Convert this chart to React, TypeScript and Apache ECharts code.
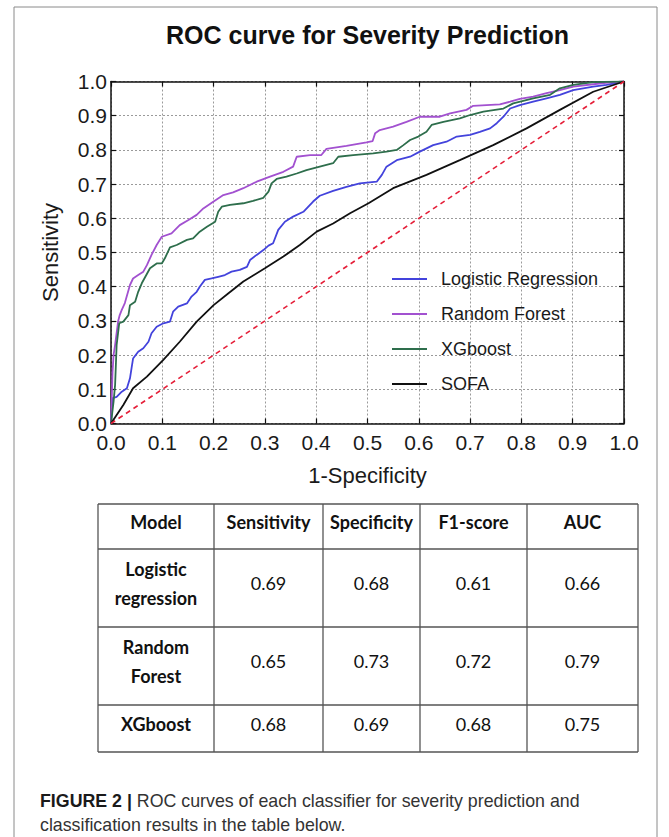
import React, { useEffect, useRef } from 'react';
import * as echarts from 'echarts';

const chartTitle = 'ROC curve for Severity Prediction';
const xAxisName = '1-Specificity';
const yAxisName = 'Sensitivity';
const legendNames = ['Logistic Regression', 'Random Forest', 'XGboost', 'SOFA'];

const lrPoints = [[0,0],[0.003,0.074],[0.011,0.078],[0.021,0.093],[0.031,0.103],[0.037,0.132],[0.04,0.161],[0.043,0.19],[0.053,0.21],[0.063,0.22],[0.073,0.239],[0.079,0.264],[0.089,0.283],[0.102,0.293],[0.115,0.298],[0.121,0.327],[0.131,0.342],[0.148,0.351],[0.157,0.371],[0.167,0.385],[0.173,0.4],[0.183,0.42],[0.196,0.424],[0.209,0.429],[0.222,0.434],[0.235,0.444],[0.251,0.449],[0.265,0.458],[0.271,0.478],[0.284,0.493],[0.297,0.507],[0.307,0.52],[0.316,0.527],[0.326,0.566],[0.339,0.59],[0.355,0.605],[0.375,0.619],[0.394,0.649],[0.407,0.666],[0.433,0.68],[0.459,0.692],[0.485,0.702],[0.518,0.707],[0.528,0.727],[0.537,0.751],[0.557,0.77],[0.583,0.78],[0.602,0.795],[0.628,0.814],[0.654,0.824],[0.674,0.839],[0.7,0.844],[0.719,0.853],[0.739,0.863],[0.752,0.878],[0.765,0.897],[0.778,0.921],[0.797,0.931],[0.823,0.941],[0.849,0.951],[0.875,0.961],[0.901,0.975],[0.94,0.985],[0.966,0.99],[1,1]];

const rfPoints = [[0,0],[0.003,0.15],[0.005,0.2],[0.008,0.23],[0.014,0.3],[0.017,0.317],[0.021,0.332],[0.027,0.352],[0.037,0.405],[0.043,0.424],[0.053,0.434],[0.063,0.444],[0.07,0.463],[0.079,0.493],[0.089,0.522],[0.099,0.546],[0.118,0.556],[0.134,0.58],[0.151,0.595],[0.167,0.61],[0.18,0.629],[0.2,0.649],[0.219,0.668],[0.238,0.676],[0.258,0.688],[0.284,0.707],[0.31,0.722],[0.336,0.736],[0.355,0.751],[0.362,0.78],[0.388,0.785],[0.41,0.785],[0.42,0.803],[0.459,0.812],[0.498,0.822],[0.51,0.826],[0.515,0.849],[0.524,0.858],[0.55,0.868],[0.576,0.882],[0.602,0.897],[0.641,0.897],[0.661,0.907],[0.693,0.917],[0.706,0.929],[0.758,0.933],[0.778,0.941],[0.797,0.949],[0.823,0.956],[0.849,0.966],[0.875,0.975],[0.901,0.985],[0.94,0.992],[0.969,0.997],[1,1]];

const xgbPoints = [[0,0],[0.005,0.064],[0.008,0.113],[0.011,0.23],[0.016,0.293],[0.024,0.298],[0.034,0.317],[0.037,0.346],[0.047,0.356],[0.053,0.385],[0.06,0.41],[0.076,0.454],[0.089,0.468],[0.099,0.468],[0.105,0.483],[0.115,0.515],[0.128,0.522],[0.148,0.537],[0.16,0.541],[0.173,0.561],[0.187,0.575],[0.203,0.59],[0.209,0.619],[0.216,0.634],[0.232,0.639],[0.258,0.644],[0.277,0.651],[0.297,0.66],[0.307,0.678],[0.313,0.702],[0.323,0.715],[0.342,0.722],[0.362,0.731],[0.381,0.741],[0.407,0.751],[0.433,0.761],[0.443,0.78],[0.472,0.785],[0.511,0.79],[0.537,0.795],[0.557,0.8],[0.57,0.814],[0.583,0.829],[0.599,0.839],[0.615,0.853],[0.625,0.873],[0.648,0.882],[0.68,0.892],[0.7,0.902],[0.726,0.912],[0.765,0.921],[0.784,0.936],[0.823,0.951],[0.856,0.961],[0.875,0.98],[0.901,0.99],[0.94,0.998],[1,1]];

const sofaPoints = [[0,0],[0.011,0.025],[0.024,0.054],[0.043,0.103],[0.07,0.137],[0.102,0.186],[0.134,0.239],[0.167,0.298],[0.2,0.346],[0.229,0.381],[0.258,0.415],[0.3,0.454],[0.336,0.488],[0.368,0.522],[0.401,0.561],[0.433,0.585],[0.466,0.615],[0.502,0.644],[0.55,0.688],[0.615,0.727],[0.68,0.77],[0.745,0.814],[0.81,0.863],[0.875,0.917],[0.94,0.97],[1,1]];

const chancePoints = [[0,0],[1,1]];

const tableHeaders = ['Model', 'Sensitivity', 'Specificity', 'F1-score', 'AUC'];
const tableModels = ['Logistic\nregression', 'Random\nForest', 'XGboost'];
const tableSensitivity = ['0.69', '0.65', '0.68'];
const tableSpecificity = ['0.68', '0.73', '0.69'];
const tableF1 = ['0.61', '0.72', '0.68'];
const tableAUC = ['0.66', '0.79', '0.75'];

const captionBold = 'FIGURE 2 |';
const captionRest = ' ROC curves of each classifier for severity prediction and\nclassification results in the table below.';

const colors = ['#4343dc', '#a251d0', '#2e6e4c', '#111111'];
const SANS = '"Liberation Sans", Arial, Helvetica, sans-serif';
const TABLE_FONT = 'Lato, "DejaVu Sans Condensed", sans-serif';

function txt(x: number, y: number, text: string, size: number, weight: string, family: string, fill = '#111', lh?: number) {
  return {
    type: 'text', x, y, silent: true,
    style: {
      text, fill, fontSize: size, fontWeight: weight, fontFamily: family,
      align: 'center', verticalAlign: 'middle', textAlign: 'center', textVerticalAlign: 'middle',
      lineHeight: lh,
    },
  };
}

export default function App() {
  const ref = useRef<HTMLDivElement>(null);
  useEffect(() => {
    if (!ref.current) return;
    const chart = echarts.init(ref.current, undefined, { renderer: 'svg' });

    const colX = [98, 214, 323, 420, 527, 638];
    const rowY = [504, 549, 627, 705, 752];
    const graphics: any[] = [];
    graphics.push({ type: 'rect', silent: true, shape: { x: 14, y: 7, width: 643, height: 840 }, style: { fill: 'none', stroke: '#8a8a8a', lineWidth: 1 } });
    graphics.push(txt(367.5, 35, chartTitle, 25, 'bold', SANS, '#111'));
    colX.forEach((x) => graphics.push({ type: 'line', silent: true, shape: { x1: x, y1: rowY[0], x2: x, y2: rowY[rowY.length - 1] }, style: { stroke: '#555', lineWidth: 1.3 } }));
    rowY.forEach((y) => graphics.push({ type: 'line', silent: true, shape: { x1: colX[0], y1: y, x2: colX[colX.length - 1], y2: y }, style: { stroke: '#555', lineWidth: 1.3 } }));
    const cx = colX.slice(0, -1).map((x, i) => (x + colX[i + 1]) / 2);
    const cy = rowY.slice(0, -1).map((y, i) => y + (rowY[i + 1] - y) / 2 - 5);
    tableHeaders.forEach((h, i) => graphics.push(txt(cx[i], cy[0], h, 18, 'bold', TABLE_FONT)));
    const cols = [tableSensitivity, tableSpecificity, tableF1, tableAUC];
    tableModels.forEach((m, r) => {
      graphics.push(txt(cx[0], cy[r + 1], m, 18, 'bold', TABLE_FONT, '#111', 29));
      cols.forEach((c, j) => graphics.push(txt(cx[j + 1], cy[r + 1], c[r], 18, 'normal', TABLE_FONT)));
    });
    graphics.push({
      type: 'text', x: 40, y: 789, silent: true,
      style: {
        text: '{b|' + captionBold + '}' + captionRest,
        fontSize: 17.8, fontFamily: SANS, fill: '#333', lineHeight: 24,
        align: 'left', verticalAlign: 'top', textAlign: 'left', textVerticalAlign: 'top',
        rich: { b: { fontWeight: 'bold', fontSize: 17.8, fontFamily: SANS, fill: '#1a1a1a', color: '#1a1a1a', lineHeight: 24 } },
      },
    });

    const axisCommon = {
      type: 'value', min: 0, max: 1, interval: 0.1,
      axisLine: { show: true, onZero: false, lineStyle: { color: '#111', width: 1.5 } },
      axisTick: { show: true, inside: true, length: 5, lineStyle: { color: '#111', width: 1.2 } },
    };

    const series: any[] = [lrPoints, rfPoints, xgbPoints, sofaPoints].map((pts, i) => ({
      name: legendNames[i], type: 'line', data: pts, showSymbol: false, symbol: 'none',
      lineStyle: { color: colors[i], width: 1.8 }, itemStyle: { color: colors[i] }, z: 3 + i,
    }));
    series.push({
      name: 'chance', type: 'line', data: chancePoints, showSymbol: false, symbol: 'none',
      lineStyle: { color: '#e5203a', width: 1.6, type: [5, 4] }, itemStyle: { color: '#e5203a' }, z: 8,
    });

    chart.setOption({
      animation: false,
      backgroundColor: '#ffffff',
      grid: { left: 111, top: 81.5, width: 513, height: 342, containLabel: false },
      xAxis: [
        {
          ...axisCommon, position: 'bottom',
          axisLabel: { formatter: (v: number) => v.toFixed(1), fontSize: 21, color: '#1a1a1a', fontFamily: SANS, margin: 8, showMinLabel: true, showMaxLabel: true },
          splitLine: { show: true, lineStyle: { color: '#9a9a9a', width: 1, type: [2, 2] } },
          name: xAxisName, nameLocation: 'middle', nameGap: 41,
          nameTextStyle: { fontSize: 22, color: '#1a1a1a', fontFamily: SANS },
        },
        { ...axisCommon, position: 'top', axisLabel: { show: false }, splitLine: { show: false } },
      ],
      yAxis: [
        {
          ...axisCommon, position: 'left',
          axisLabel: { formatter: (v: number) => v.toFixed(1), fontSize: 21, color: '#1a1a1a', fontFamily: SANS, margin: 4, showMinLabel: true, showMaxLabel: true },
          splitLine: { show: true, lineStyle: { color: '#9a9a9a', width: 1, type: [2, 2] } },
          name: yAxisName, nameLocation: 'middle', nameGap: 50,
          nameTextStyle: { fontSize: 22, color: '#1a1a1a', fontFamily: SANS },
        },
        { ...axisCommon, position: 'right', axisLabel: { show: false }, splitLine: { show: false } },
      ],
      legend: {
        data: legendNames, orient: 'vertical', left: 387, top: 264,
        icon: 'rect', itemWidth: 35, itemHeight: 2, itemGap: 15,
        textStyle: { fontSize: 18, color: '#1a1a1a', fontFamily: SANS, lineHeight: 20, padding: [0, 0, 0, 9] },
      },
      series,
      graphic: { elements: graphics },
    });
    return () => chart.dispose();
  }, []);
  return <div ref={ref} style={{ position: 'absolute', left: 0, top: 0, width: 669, height: 837 }} />;
}
